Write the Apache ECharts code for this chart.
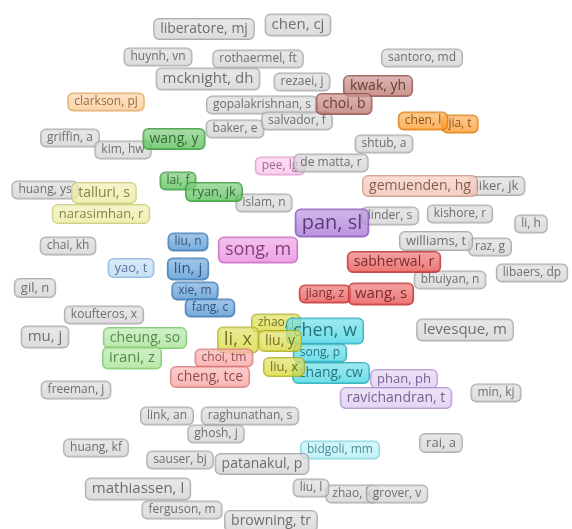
<!DOCTYPE html>
<html>
<head>
<meta charset="utf-8">
<script src="https://cdn.jsdelivr.net/npm/echarts@6/dist/echarts.min.js"></script>
<style>html,body{margin:0;padding:0;background:#fff;}#c{width:572px;height:529px;}</style>
</head>
<body>
<div id="c"></div>
<script>
// Author map: label, map x, map y, weight (font size), cluster
const labels = [
  "liberatore, mj","chen, cj","huynh, vn","rothaermel, ft","santoro, md","mcknight, dh","rezaei, j",
  "gopalakrishnan, s","baker, e","salvador, f","griffin, a","kim, hw","jia, t","shtub, a",
  "huang, ys","islam, n","liker, jk","linder, s","kishore, r","li, h","chai, kh","raz, g","williams, t",
  "libaers, dp","bhuiyan, n","gil, n","koufteros, x","levesque, m","mu, j","freeman, j","min, kj",
  "link, an","raghunathan, s","ghosh, j","rai, a","huang, kf","sauser, bj","mathiassen, l",
  "zhao, k","liu, l","grover, v","ferguson, m","browning, tr",
  "kwak, yh","choi, b","clarkson, pj","chen, l","pee, lg","de matta, r","wang, y","lai, f","ryan, jk",
  "talluri, s","narasimhan, r","gemuenden, hg","pan, sl","liu, n","song, m","yao, t","lin, j",
  "sabherwal, r","xie, m","jiang, z","wang, s","fang, c","zhao, j","chen, w","song, p","cheung, so",
  "liu, y","li, x","irani, z","choi, tm","zhang, cw","liu, x","phan, ph","cheng, tce","ravichandran, t",
  "bidgoli, mm","patanakul, p"
];
const xs = [
  204,298,158,258,422,208,302,
  262,235,297,70,123,460,384,
  45,264,497,390,460,531,68,490,436,
  532,450,35,104,465,45,76,496,
  167,250,216,441,96,180,138,
  352,311,397,182,271,
  378,344,106,423,280,331,174,178,214,
  104,101,420,332,188,258,131,188,
  394,195,325,381,210,276,325,320,145,
  280,238,132,224,331,284,404,210,396,
  340,262
];
const ys = [
  29,25,57,59,58,79,82,
  105,129,121,138,150,124,144,
  190,203,186,216,214,224,246,247,241,
  273,280,288,315,330,337,390,393,
  416,416,434,443,448,460,489,
  494,488,494,510,521,
  86,104,102,121,166,163,139,181,192,
  193,214,186,223,242,250,268,269,
  262,291,294,294,308,323,331,353,338,
  341,340,358,358,373,367,379,377,398,
  450,464
];
const sizes = [
  14,15,12,12,12,15,12,
  12,12,12,12,12,12,12,
  12,12,13,12,12,12,12,12,13,
  12,12,13,12,15,15,12,12,
  12,12,12,13,12,12,15,
  12,12,12,12,14,
  14,14,12,12,12,12,14,12,13,
  14,13,14,20,12,18,13,15,
  14,12,12,15,12,12,18,12,14,
  14,18,15,12,14,13,13,14,14,
  12,14
];
const clusters = [
  "g","g","g","g","g","g","g",
  "g","g","g","g","g","orange","g",
  "g","g","g","g","g","g","g","g","g",
  "g","g","g","g","g","g","g","g",
  "g","g","g","g","g","g","g",
  "g","g","g","g","g",
  "brown","brown","lorange","orange","lpink","g","green","green","green",
  "lyellow","lyellow","salmon","purple","blue","pink","lblue","blue",
  "red","blue","red","red","blue","yellow","cyan","cyan","lgreen",
  "yellow","yellow","lgreen","lred","cyan","yellow","lpurple","lred","lpurple",
  "lcyan","g"
];

const palette = {
  g:       {bg:[208,208,208], bd:"#9a9a9a", tx:"#505050"},
  green:   {bg:[76,186,76],   bd:"#2f8f2f", tx:"#1d4f1d"},
  lgreen:  {bg:[160,224,140], bd:"#6cbf5e", tx:"#386f30"},
  lyellow: {bg:[234,234,150], bd:"#c4c46e", tx:"#66662e"},
  yellow:  {bg:[214,214,44],  bd:"#a8a820", tx:"#55550e"},
  blue:    {bg:[68,140,206],  bd:"#2d6aa6", tx:"#17375f"},
  lblue:   {bg:[180,214,244], bd:"#7eaad6", tx:"#3a5a80"},
  pink:    {bg:[230,130,220], bd:"#c058b4", tx:"#6a2060"},
  lpink:   {bg:[248,190,230], bd:"#dc8cc6", tx:"#8a4a7a"},
  purple:  {bg:[160,108,210], bd:"#7a4aac", tx:"#43245f"},
  lpurple: {bg:[218,198,240], bd:"#a888c8", tx:"#5a4276"},
  red:     {bg:[230,68,68],   bd:"#b02424", tx:"#5e1010"},
  lred:    {bg:[246,154,154], bd:"#d07070", tx:"#7a2e2e"},
  brown:   {bg:[182,108,100], bd:"#8a4a44", tx:"#4a1e1a"},
  salmon:  {bg:[240,188,172], bd:"#c89080", tx:"#6a3e30"},
  lorange: {bg:[250,198,138], bd:"#d89a50", tx:"#7a5020"},
  orange:  {bg:[255,148,28],  bd:"#d07000", tx:"#6a3a00"},
  cyan:    {bg:[56,210,224],  bd:"#1e9fae", tx:"#0e5866"},
  lcyan:   {bg:[172,238,246], bd:"#72c8d2", tx:"#2e7480"}
};

function rgba(c, k, a) {
  const m = c.map(v => Math.round(v + (255 - v) * k));
  return "rgba(" + m[0] + "," + m[1] + "," + m[2] + "," + a + ")";
}

const data = labels.map((name, i) => {
  const p = palette[clusters[i]];
  const fs = sizes[i];
  return {
    name: name,
    value: [xs[i], ys[i]],
    label: {
      show: true,
      position: "inside",
      formatter: "{b}",
      fontFamily: "Open Sans",
      fontSize: fs,
      lineHeight: Math.round(fs * 1.25),
      color: p.tx,
      backgroundColor: new echarts.graphic.LinearGradient(0, 0, 0, 1, [
        {offset: 0, color: rgba(p.bg, 0.35, 0.92)},
        {offset: 1, color: rgba(p.bg, 0, 0.92)}
      ]),
      borderColor: p.bd,
      borderWidth: 1,
      borderRadius: 5,
      padding: [1, 6, 1, 6]
    }
  };
});

const chart = echarts.init(document.getElementById("c"), null, {renderer: "canvas"});
chart.setOption({
  animation: false,
  backgroundColor: "#ffffff",
  grid: {left: 0, right: 0, top: 0, bottom: 0},
  xAxis: {type: "value", min: 0, max: 572, show: false},
  yAxis: {type: "value", min: 0, max: 529, inverse: true, show: false},
  series: [{
    type: "scatter",
    symbolSize: 1,
    itemStyle: {color: "rgba(0,0,0,0)"},
    emphasis: {disabled: true},
    data: data
  }]
});
</script>
</body>
</html>
